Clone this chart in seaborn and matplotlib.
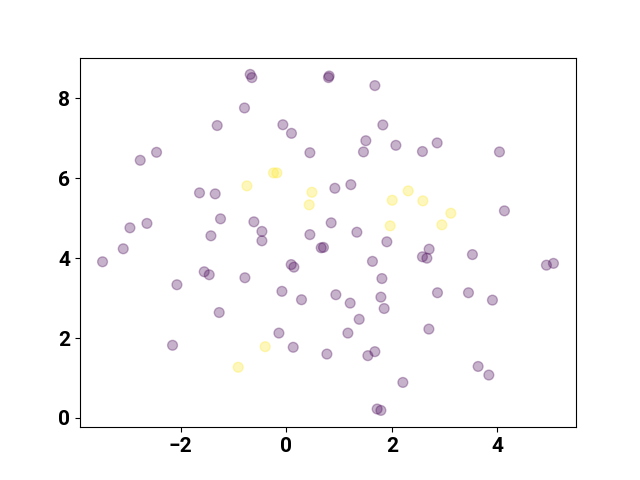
import numpy as np
import pandas as pd
import matplotlib
matplotlib.use("Agg")
import matplotlib.pyplot as plt
import seaborn as sns

# puntos clase 0 (morado)
x0 = [-3.479, -3.087, -2.960, -2.765, -2.638, -2.456, -2.153, -2.070, -1.642, -1.553,
      -1.458, -1.426, -1.345, -1.307, -1.244, -1.269, -0.790, -0.782, -0.682, -0.650,
      -0.612, -0.460, -0.460, -0.138, -0.081, -0.063, 0.100, 0.095, 0.146, 0.133,
      0.290, 0.449, 0.449, 0.663, 0.706, 0.771, 0.814, 0.801, 0.852, 0.922,
      0.941, 1.225, 1.212, 1.169, 1.339, 1.383, 1.464, 1.509, 1.547, 1.634,
      1.680, 1.680, 1.723, 1.794, 1.794, 1.813, 1.831, 1.856, 1.907, 2.078,
      2.210, 2.581, 2.581, 2.665, 2.708, 2.703, 2.860, 2.866, 3.453, 3.528,
      3.636, 3.839, 3.907, 4.040, 4.134, 4.930, 5.063]
y0 = [3.91, 4.235, 4.76, 6.45, 4.87, 6.65, 1.82, 3.335, 5.635, 3.66,
      3.585, 4.56, 5.61, 7.32, 4.985, 2.64, 7.76, 3.51, 8.60, 8.52,
      4.91, 4.67, 4.435, 2.125, 3.17, 7.34, 7.125, 3.84, 3.775, 1.77,
      2.96, 6.64, 4.59, 4.26, 4.27, 1.60, 8.56, 8.52, 4.885, 5.75,
      3.085, 5.84, 2.875, 2.125, 4.65, 2.47, 6.66, 6.94, 1.56, 3.92,
      8.32, 1.66, 0.225, 0.19, 3.025, 3.49, 7.335, 2.74, 4.41, 6.825,
      0.89, 6.67, 4.035, 4.0, 4.225, 2.225, 6.885, 3.135, 3.135, 4.09,
      1.29, 1.075, 2.95, 6.66, 5.185, 3.825, 3.87]

# puntos clase 1 (amarillo)
x1 = [-0.909, -0.744, -0.398, -0.241, -0.176, 0.487, 0.436, 2.008, 1.970, 2.311,
      2.589, 2.949, 3.119]
y1 = [1.27, 5.81, 1.785, 6.135, 6.135, 5.65, 5.335, 5.45, 4.81, 5.685,
      5.435, 4.835, 5.125]

df = pd.DataFrame({
    "x": x0 + x1,
    "y": y0 + y1,
    "label": [0] * len(x0) + [1] * len(x1),
})

cmap = plt.get_cmap("viridis")
palette = {0: cmap(0.0), 1: cmap(1.0)}

fig, ax = plt.subplots(figsize=(6.4, 4.8), dpi=100)
sns.scatterplot(data=df, x="x", y="y", hue="label", palette=palette,
                alpha=0.3, s=50, edgecolor="face", linewidth=1,
                legend=False, ax=ax)
ax.set_xlabel("")
ax.set_ylabel("")
ax.set_xticks([-2, 0, 2, 4])
ax.set_yticks([0, 2, 4, 6, 8])
for lbl in ax.get_xticklabels() + ax.get_yticklabels():
    lbl.set_fontfamily("Roboto")
    lbl.set_fontweight("bold")
    lbl.set_fontsize(15)

plt.savefig("out.png")
